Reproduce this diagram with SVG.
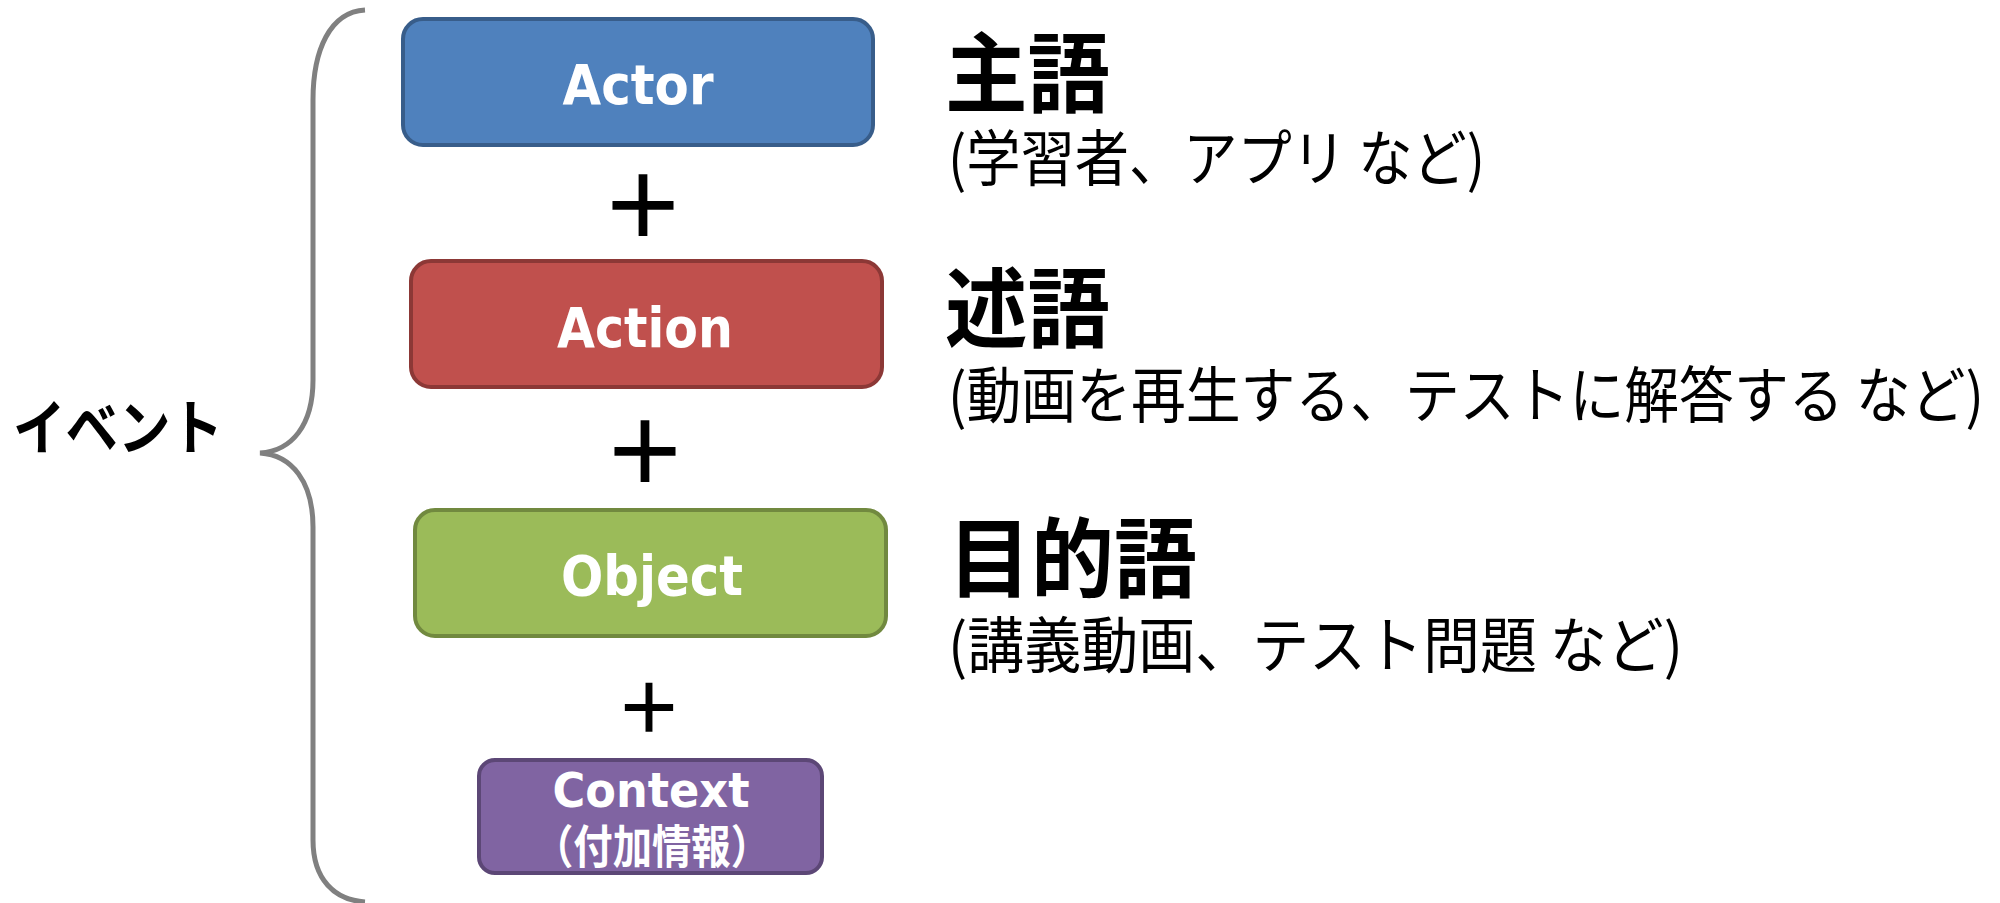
<svg xmlns="http://www.w3.org/2000/svg" width="2000" height="903" viewBox="0 0 2000 903">
<style>
.box{stroke-width:4}
.lbl{font-family:"DejaVu Sans","Noto Sans CJK JP",sans-serif;font-weight:bold;fill:#fff;text-anchor:middle}
.jlbl{font-family:"Noto Sans CJK JP",sans-serif;font-weight:bold;fill:#fff;text-anchor:middle}
.head{font-family:"Noto Sans CJK JP",sans-serif;font-weight:bold;fill:#000}
.sub{font-family:"Noto Sans CJK JP",sans-serif;font-weight:normal;fill:#000}
.plus{font-family:"Noto Sans CJK JP",sans-serif;font-weight:bold;fill:#000;text-anchor:middle}
</style>
<rect width="2000" height="903" fill="#fff"/>
<g id="connectors">
<path id="brace" d="M 365 10 C 330 12 313 50 313 100 L 313 380 C 313 425 292 451 260 453 C 292 455 313 482 313 527 L 313 840 C 313 880 335 900 365 902" fill="none" stroke="#808080" stroke-width="5"/>
<text class="plus" x="643" y="238" font-size="86">＋</text>
<text class="plus" x="645" y="484" font-size="86">＋</text>
<text class="plus" x="649" y="733" font-size="68">＋</text>
</g>
<g id="event">
<text class="head" x="13" y="450" font-size="60" textLength="210" lengthAdjust="spacingAndGlyphs">イベント</text>
</g>
<g id="actor">
<rect class="box" x="403" y="19" width="470" height="126" rx="20" fill="#4F81BD" stroke="#385D8A"/>
<text class="lbl" x="638" y="104" font-size="55" textLength="151" lengthAdjust="spacingAndGlyphs">Actor</text>
</g>
<g id="action">
<rect class="box" x="411" y="261" width="471" height="126" rx="20" fill="#C0504D" stroke="#8C3836"/>
<text class="lbl" x="645" y="347" font-size="56" textLength="176" lengthAdjust="spacingAndGlyphs">Action</text>
</g>
<g id="object">
<rect class="box" x="415" y="510" width="471" height="126" rx="20" fill="#9BBB59" stroke="#71893F"/>
<text class="lbl" x="652" y="595" font-size="56" textLength="182" lengthAdjust="spacingAndGlyphs">Object</text>
</g>
<g id="context">
<rect class="box" x="479" y="760" width="343" height="113" rx="16" fill="#8064A2" stroke="#5C4776"/>
<text class="lbl" x="651" y="807" font-size="48" textLength="197" lengthAdjust="spacingAndGlyphs">Context</text>
<text class="jlbl" x="652" y="863" font-size="46" textLength="236" lengthAdjust="spacingAndGlyphs">（付加情報）</text>
</g>
<g id="subject-text">
<text class="head" x="945" y="106" font-size="87" textLength="165" lengthAdjust="spacingAndGlyphs">主語</text>
<text class="sub" x="948" y="181" font-size="61" textLength="537" lengthAdjust="spacingAndGlyphs">(学習者、アプリ など)</text>
</g>
<g id="predicate-text">
<text class="head" x="945" y="341" font-size="87" textLength="165" lengthAdjust="spacingAndGlyphs">述語</text>
<text class="sub" x="948" y="418" font-size="61" textLength="1036" lengthAdjust="spacingAndGlyphs">(動画を再生する、テストに解答する など)</text>
</g>
<g id="object-text">
<text class="head" x="948" y="591" font-size="87" textLength="249" lengthAdjust="spacingAndGlyphs">目的語</text>
<text class="sub" x="948" y="668" font-size="61" textLength="735" lengthAdjust="spacingAndGlyphs">(講義動画、テスト問題 など)</text>
</g>
</svg>
